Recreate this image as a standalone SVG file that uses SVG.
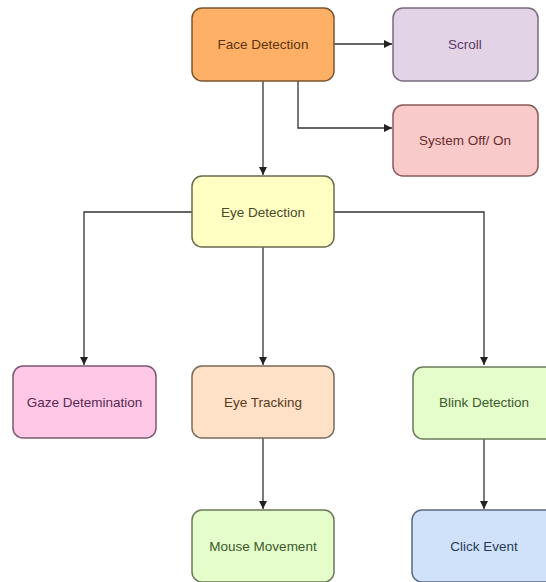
<svg xmlns="http://www.w3.org/2000/svg" width="546" height="582" viewBox="0 0 546 582">
<defs>
<style>
.box{stroke-width:1.5}
.lbl{font-family:"Liberation Sans",Arial,sans-serif;font-size:13.5px;text-anchor:middle;dominant-baseline:central}
.conn{fill:none;stroke:#333;stroke-width:1.3}
</style>
<marker id="arr" viewBox="0 0 10 10" refX="10" refY="5" markerWidth="8" markerHeight="8" markerUnits="userSpaceOnUse" orient="auto">
<path d="M0,0 L10,5 L0,10 z" fill="#222"/>
</marker>
</defs>
<rect width="546" height="582" fill="#fff"/>
<g id="connectors">
<path class="conn" d="M334,44 H392" marker-end="url(#arr)"/>
<path class="conn" d="M298,81 V128 H392" marker-end="url(#arr)"/>
<path class="conn" d="M263,81 V175" marker-end="url(#arr)"/>
<path class="conn" d="M192,212 H84 V365" marker-end="url(#arr)"/>
<path class="conn" d="M263,247 V365" marker-end="url(#arr)"/>
<path class="conn" d="M334,212 H484 V365" marker-end="url(#arr)"/>
<path class="conn" d="M263,438 V509" marker-end="url(#arr)"/>
<path class="conn" d="M484,438 V509" marker-end="url(#arr)"/>
</g>
<g id="face-detection">
<rect class="box" x="192" y="8" width="142" height="73" rx="10" fill="#FFB067" stroke="#7a5530"/>
<text class="lbl" x="263" y="44.5" fill="#5a3510">Face Detection</text>
</g>
<g id="scroll">
<rect class="box" x="393" y="8" width="145" height="73" rx="10" fill="#E3D3E6" stroke="#7a6a80"/>
<text class="lbl" x="465" y="44.5" fill="#5a3a6a">Scroll</text>
</g>
<g id="system-off-on">
<rect class="box" x="393" y="105" width="145" height="71" rx="10" fill="#F9CACA" stroke="#8a5a5a"/>
<text class="lbl" x="465" y="140.5" fill="#6a2a2a">System Off/ On</text>
</g>
<g id="eye-detection">
<rect class="box" x="192" y="176" width="142" height="71" rx="10" fill="#FFFFC4" stroke="#6a6a50"/>
<text class="lbl" x="263" y="212" fill="#4a4a2a">Eye Detection</text>
</g>
<g id="gaze-determination">
<rect class="box" x="13" y="366" width="143" height="72" rx="10" fill="#FFC8E6" stroke="#7a5a70"/>
<text class="lbl" x="84.5" y="402.5" fill="#5a2a50">Gaze Detemination</text>
</g>
<g id="eye-tracking">
<rect class="box" x="192" y="366" width="142" height="72" rx="10" fill="#FFE1C8" stroke="#7a6a5a"/>
<text class="lbl" x="263" y="402.5" fill="#5a3a20">Eye Tracking</text>
</g>
<g id="blink-detection">
<rect class="box" x="413" y="367" width="145" height="72" rx="10" fill="#E5FDCB" stroke="#6a7a5a"/>
<text class="lbl" x="484" y="402.5" fill="#3a5a2a">Blink Detection</text>
</g>
<g id="mouse-movement">
<rect class="box" x="192" y="510" width="142" height="72" rx="10" fill="#E5FDCB" stroke="#6a7a5a"/>
<text class="lbl" x="263" y="546" fill="#3a5a2a">Mouse Movement</text>
</g>
<g id="click-event">
<rect class="box" x="412" y="510" width="146" height="72" rx="10" fill="#CFE2FA" stroke="#5a6a80"/>
<text class="lbl" x="484" y="546" fill="#2a3a5a">Click Event</text>
</g>
</svg>
